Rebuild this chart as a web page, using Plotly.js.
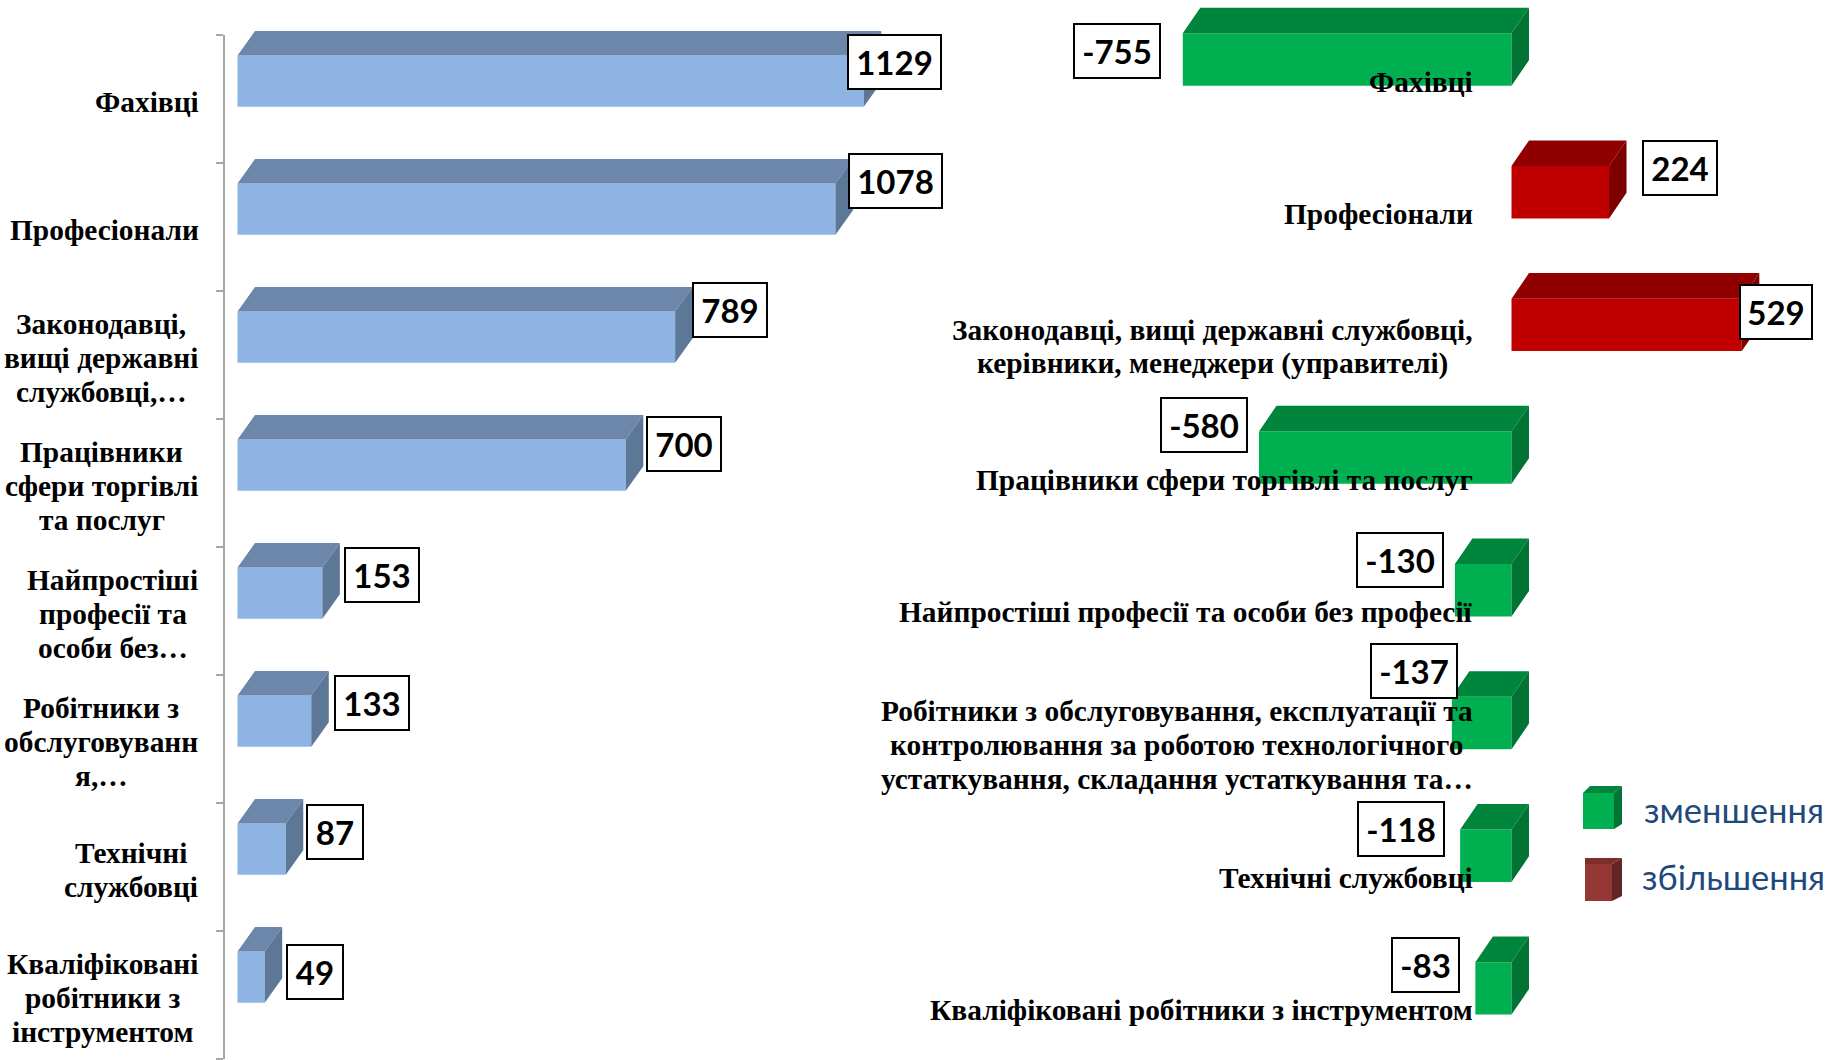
<!DOCTYPE html>
<html><head><meta charset="utf-8">
<script src="https://cdn.plot.ly/plotly-3.0.0.min.js"></script>
<style>html,body{margin:0;padding:0;background:#fff;overflow:hidden}</style>
</head><body><div id="chart" style="width:1825px;height:1060px"></div>
<script>
// DATA
const leftCategories = ["Фахівці","Професіонали","Законодавці,<br>вищі державні<br>службовці,…","Працівники<br>сфери торгівлі<br>та послуг","Найпростіші<br>професії та<br>особи без…","Робітники з<br>обслуговуванн<br>я,…","Технічні<br>службовці","Кваліфіковані<br>робітники з<br>інструментом"];
const leftValues = [1129,1078,789,700,153,133,87,49];
const rightCategories = ["Фахівці","Професіонали","Законодавці, вищі державні службовці,<br>керівники, менеджери (управителі)","Працівники сфери торгівлі та послуг","Найпростіші професії та особи без професії","Робітники з обслуговування, експлуатації та<br>контролювання за роботою технологічного<br>устаткування, складання устаткування та…","Технічні службовці","Кваліфіковані робітники з інструментом"];
const rightValues = [-755,224,529,-580,-130,-137,-118,-83];
const legendLabels = ["зменшення","збільшення"];

// label box placement (pixel offsets from the bar end)
const leftBoxDx = [31,60,55,58,60,61,49,50];
const leftBoxDy = [19,28,27,21,18,18,17,5];
const leftBoxW  = [91,91,72,72,72,72,54,54];
const rightBoxDx = [-66,71,34,-55,-55,-38,-59,-50];
const rightBoxDy = [9,24,13,33,30,52,27,23];
const rightBoxW  = [84,72,70,84,84,84,84,65];

// geometry
const W=1825,H=1060;
const L={zero:237.5,scale:0.5547,left:225,right:920,top:35,bottom:1059,band:128};
const R={zero:1511.5,scale:0.4354,left:920,right:1825,band:132.7,c0:59.5};
const depthL={x:17.5/L.scale,y:24.5/L.band}, depthR={x:17.5/R.scale,y:25.6/R.band};
const frontL=0.4, offL=-0.34, frontR=0.395;
const idx=leftValues.map((_,i)=>i);

function faces(vals,ys,h,d,filter){
  const top={x:[],y:[]},side={x:[],y:[]};
  vals.forEach((v,i)=>{
    if(!filter(v))return;
    const a=Math.min(0,v),b=Math.max(0,v),yt=ys[i],yb=ys[i]+h;
    top.x.push(a,b,b+d.x,a+d.x,a,null);top.y.push(yt,yt,yt-d.y,yt-d.y,yt,null);
    side.x.push(b,b+d.x,b+d.x,b,b,null);side.y.push(yt,yt-d.y,yb-d.y,yb,yt,null);
  });
  return {top,side};
}
function poly(f,color,xa,ya){
  return {type:'scatter',mode:'lines',x:f.x,y:f.y,fill:'toself',fillcolor:color,cliponaxis:false,
    line:{width:0,color:color},hoverinfo:'skip',showlegend:false,xaxis:xa,yaxis:ya};
}
const lf=faces(leftValues,idx.map(i=>i+offL),frontL,depthL,()=>true);
const rYt=idx.map(i=>i-frontR/2);
const rg=faces(rightValues,rYt,frontR,depthR,v=>v<0);
const rr=faces(rightValues,rYt,frontR,depthR,v=>v>=0);

const traces=[
 {type:'bar',orientation:'h',y:idx,x:leftValues,offset:offL,width:frontL,marker:{color:'#8db4e2',line:{width:0}},
  xaxis:'x',yaxis:'y',showlegend:false,hoverinfo:'x'},
 poly(lf.top,'#6d87ab','x','y3'),poly(lf.side,'#5d7797','x','y3'),
 {type:'bar',orientation:'h',y:idx,x:rightValues,width:frontR,
  marker:{color:rightValues.map(v=>v<0?'#00b050':'#c00000'),line:{width:0}},
  xaxis:'x2',yaxis:'y2',showlegend:false,hoverinfo:'x'},
 poly(rg.top,'#00853c','x2','y2'),poly(rg.side,'#007335','x2','y2'),
 poly(rr.top,'#900000','x2','y2'),poly(rr.side,'#7d0000','x2','y2')
];

const NAME_SIZE=29.4;
const boxFont={family:'Lato, Carlito, sans-serif',size:33,color:'#000',weight:700};
const nameFont={family:'"Liberation Serif", serif',size:NAME_SIZE,color:'#000',weight:700};
const LINE=34;
const box=(t,x,y,xr,yr,dx,dy,w)=>({text:String(t),x,y,xref:xr,yref:yr,xanchor:'center',yanchor:'middle',xshift:dx,yshift:dy,
  showarrow:false,width:w,height:52,bgcolor:'#fff',bordercolor:'#000',borderwidth:2,borderpad:0,font:boxFont,align:'center',valign:'middle'});
const ann=[];
leftValues.forEach((v,i)=>ann.push(box(v,v,i+offL+frontL/2,'x','y',leftBoxDx[i],leftBoxDy[i],leftBoxW[i])));
rightValues.forEach((v,i)=>ann.push(box(v,v,i,'x2','y2',rightBoxDx[i],rightBoxDy[i],rightBoxW[i])));

// category names: one block per line so the tight line spacing of the reference can be kept;
// every line of a block is centred on the block's widest line
const probe=document.createElement('canvas').getContext('2d');
function addNames(cats,xr,yr,right,dy){
  cats.forEach((c,i)=>{
    const lines=c.split('<br>');
    const widest=Math.max(...lines.map(l=>probe.measureText(l).width));
    lines.forEach((t,j)=>ann.push({text:t,x:0,y:i,xref:xr,yref:yr,xanchor:'center',yanchor:'middle',
      xshift:right-widest/2,yshift:dy-(j-(lines.length-1)/2)*LINE,showarrow:false,font:nameFont}));
  });
}

const legFont={family:'Lato, Carlito, sans-serif',size:34.5,color:'#1f497d'};

const path=(pts,c)=>({type:'path',xref:'paper',yref:'paper',layer:'above',fillcolor:c,line:{width:0},
  path:'M'+pts.map(p=>(p[0]/W)+','+(1-p[1]/H)).join('L')+'Z'});
const shapes=[
 path([[1583,793],[1614,793],[1614,829],[1583,829]],'#00b050'),
 path([[1583,793],[1590,786],[1622,786],[1614,793]],'#00853c'),
 path([[1614,793],[1622,786],[1622,824],[1614,829]],'#007335'),
 path([[1585,864],[1612,864],[1612,901],[1585,901]],'#953735'),
 path([[1585,864],[1585,858],[1622,858],[1612,864]],'#7f2d2b'),
 path([[1612,864],[1622,858],[1622,896],[1612,901]],'#632523')
];

const layout={width:W,height:H,margin:{l:0,r:0,t:0,b:0,pad:0},paper_bgcolor:'#fff',plot_bgcolor:'rgba(0,0,0,0)',
 barmode:'overlay',showlegend:false,
 xaxis:{domain:[L.left/W,L.right/W],range:[(L.left-L.zero)/L.scale,(L.right-L.zero)/L.scale],visible:false,anchor:'y'},
 yaxis:{domain:[1-L.bottom/H,1-L.top/H],range:[7.5,-0.5],anchor:'x',tickmode:'array',
   tickvals:[-0.5,0.5,1.5,2.5,3.5,4.5,5.5,6.5,7.5],ticktext:['','','','','','','','',''],
   ticks:'outside',ticklen:7,tickwidth:1.5,tickcolor:'#a6a6a6',showline:true,linecolor:'#a6a6a6',linewidth:2.5,showgrid:false,zeroline:false},
 xaxis2:{domain:[R.left/W,1],range:[(R.left-R.zero)/R.scale,(R.right-R.zero)/R.scale],visible:false,anchor:'y2'},
 yaxis2:{domain:[0,1],range:[(H-R.c0)/R.band,-R.c0/R.band],visible:false,anchor:'x2'},
 // same scale as the left axis, extended to the page top so the depth face of the first bar is not cut
 yaxis3:{domain:[1-L.bottom/H,1],range:[7.5,-0.5-L.top/L.band],visible:false,anchor:'x'},
 annotations:ann,shapes:shapes};
document.fonts.load('700 '+NAME_SIZE+'px "Liberation Serif"').finally(()=>{
  probe.font='700 '+NAME_SIZE+'px "Liberation Serif"';
  addNames(leftCategories,'x','y',-39,-3);
  addNames(rightCategories,'x2','y2',-39,-22);
  legendLabels.forEach((t,i)=>ann.push({text:t,xref:'paper',yref:'paper',x:(i?1640:1642)/W,y:1-(i?876:809)/H,xanchor:'left',yanchor:'middle',
    showarrow:false,font:legFont}));
  Plotly.newPlot('chart',traces,layout,{displayModeBar:false,staticPlot:true});
});
</script></body></html>
